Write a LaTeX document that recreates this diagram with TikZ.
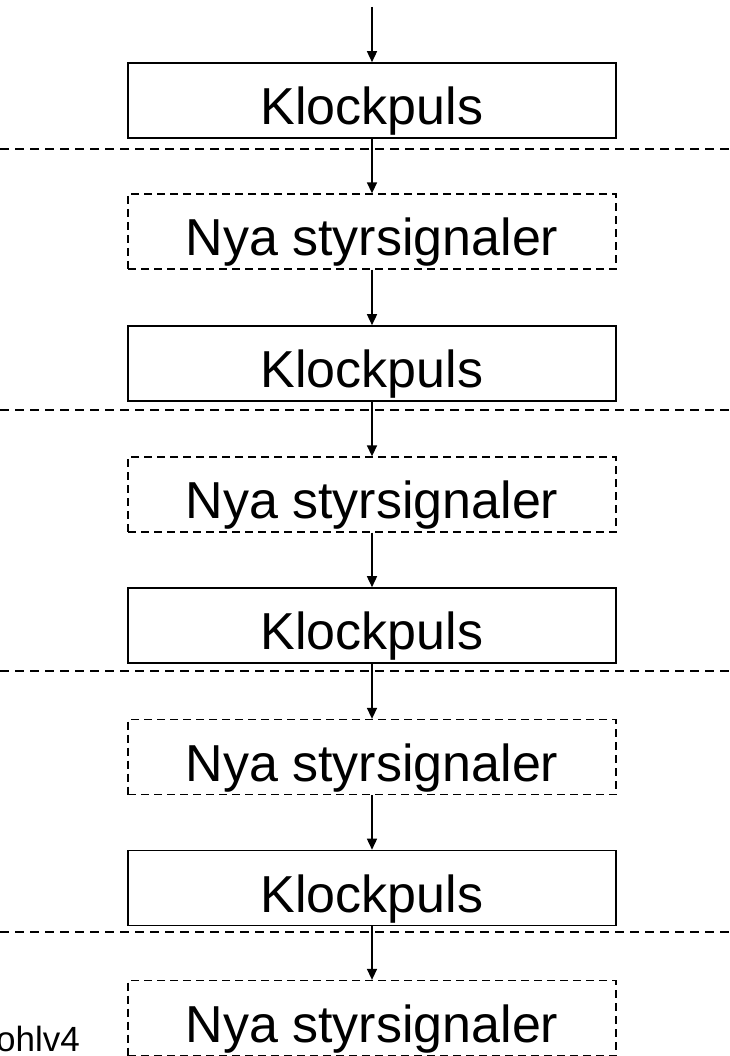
\documentclass[tikz,border=0pt]{standalone}
\usepackage{fontspec}
\setmainfont{Liberation Sans}
\usetikzlibrary{arrows.meta}
\begin{document}
\begin{tikzpicture}[x=1pt,y=-1pt,
  every node/.style={inner sep=0pt},
  clockbox/.style={draw, line width=1.6pt, minimum width=488pt, minimum height=75pt,
    text height=61pt, text depth=13pt, font=\fontsize{52}{60}\selectfont},
  signalbox/.style={clockbox, dash pattern=on 8pt off 5pt, line width=1.3pt},
  flow/.style={line width=1.5pt, -{Triangle[width=10pt,length=11pt]}},
  phase/.style={line width=1.3pt, dash pattern=on 9pt off 6pt},
]
\clip (0,0) rectangle (729,1056);

% clock pulses and the control signals that follow each one
\node[clockbox]  (k1) at (372,100.5) {Klockpuls};
\node[signalbox] (n1) at (372,231.5) {Nya styrsignaler};
\node[clockbox]  (k2) at (372,363.5) {Klockpuls};
\node[signalbox] (n2) at (372,494.5) {Nya styrsignaler};
\node[clockbox]  (k3) at (372,625.5) {Klockpuls};
\node[signalbox] (n3) at (372,757)   {Nya styrsignaler};
\node[clockbox]  (k4) at (372,888)   {Klockpuls};
\node[signalbox] (n4) at (372,1018)  {Nya styrsignaler};

% phase boundaries
\draw[phase] (0,149) -- (729,149);
\draw[phase] (0,410) -- (729,410);
\draw[phase] (0,671) -- (729,671);
\draw[phase] (0,932) -- (729,932);

% flow arrows
\coordinate (start) at (372,7);
\draw[flow] (start) -- (k1.north);
\draw[flow] (k1) -- (n1);
\draw[flow] (n1) -- (k2);
\draw[flow] (k2) -- (n2);
\draw[flow] (n2) -- (k3);
\draw[flow] (k3) -- (n3);
\draw[flow] (n3) -- (k4);
\draw[flow] (k4) -- (n4);

% footer tag, running off the left edge
\node[anchor=base east, font=\fontsize{35}{42}\selectfont] (tag) at (80,1051) {ohlv4};
\end{tikzpicture}
\end{document}
